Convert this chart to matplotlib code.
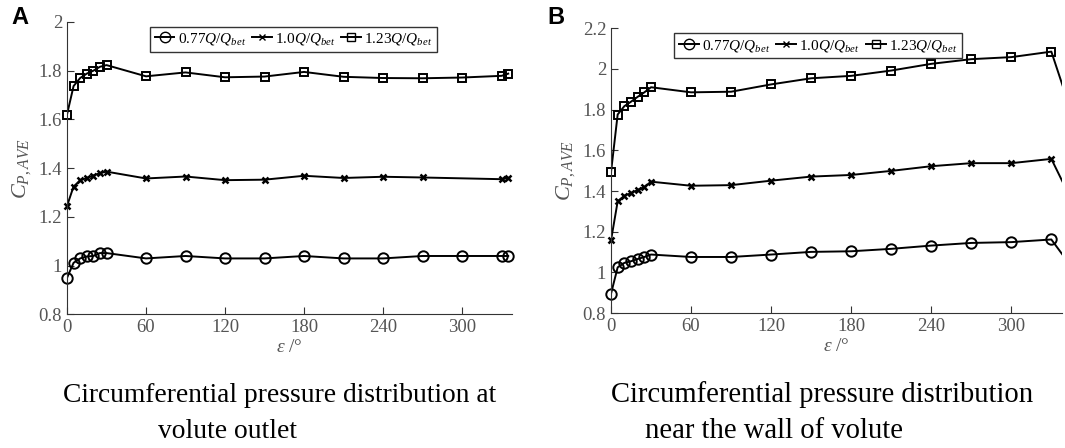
import numpy as np
import matplotlib
matplotlib.use("Agg")
from matplotlib import pyplot as plt

plt.rcParams["font.family"] = "Liberation Serif"
plt.rcParams["mathtext.fontset"] = "custom"
plt.rcParams["mathtext.rm"] = "Liberation Serif"
plt.rcParams["mathtext.it"] = "Liberation Serif:italic"

# panel A: volute outlet
a_x_low = [0, 5, 10, 15, 20, 25, 30, 60, 90, 120, 150, 180, 210, 240, 270, 300, 330, 335]
a_low = [0.95, 1.012, 1.03, 1.038, 1.04, 1.052, 1.052, 1.03, 1.04, 1.03, 1.03, 1.04, 1.03, 1.03,
         1.04, 1.04, 1.04, 1.04]
a_x_mid = [0, 5, 10, 15, 20, 25, 30, 60, 90, 120, 150, 180, 210, 240, 270, 330, 335]
a_mid = [1.245, 1.325, 1.35, 1.36, 1.37, 1.38, 1.386, 1.358, 1.366, 1.351, 1.353, 1.369, 1.36,
         1.365, 1.362, 1.355, 1.36]
a_x_high = a_x_low
a_high = [1.62, 1.737, 1.77, 1.788, 1.80, 1.816, 1.823, 1.777, 1.793, 1.773, 1.776, 1.795, 1.775,
          1.77, 1.769, 1.772, 1.779, 1.788]

# panel B: near the wall of volute (360 closes the loop back to 0)
b_x = [0, 5, 10, 15, 20, 25, 30, 60, 90, 120, 150, 180, 210, 240, 270, 300, 330, 360]
b_low = [0.895, 1.025, 1.047, 1.055, 1.066, 1.076, 1.088, 1.076, 1.076, 1.088, 1.101, 1.104,
         1.116, 1.132, 1.145, 1.149, 1.162, 0.895]
b_mid = [1.157, 1.349, 1.377, 1.39, 1.405, 1.42, 1.446, 1.426, 1.429, 1.451, 1.471, 1.479,
         1.499, 1.522, 1.537, 1.537, 1.558, 1.157]
b_high = [1.492, 1.776, 1.817, 1.839, 1.863, 1.885, 1.91, 1.885, 1.888, 1.924, 1.954, 1.966,
          1.992, 2.025, 2.048, 2.058, 2.085, 1.492]

labels = ["0.77$Q$/$Q_{bet}$", "1.0$Q$/$Q_{bet}$", "1.23$Q$/$Q_{bet}$"]
x_ticks = [0, 60, 120, 180, 240, 300]
x_max = 338
a_yticks = [0.8, 1.0, 1.2, 1.4, 1.6, 1.8, 2.0]
b_yticks = [0.8, 1.0, 1.2, 1.4, 1.6, 1.8, 2.0, 2.2]


def fmt(v):
  return ("%.1f" % v).rstrip("0").rstrip(".")


def panel(ax, series, yticks, legend_x):
  styles = [dict(marker="o", ms=7.5, mfc="none"),
            dict(marker="x", ms=5, mew=1.8),
            dict(marker="s", ms=6, mfc="none")]
  for (xs, ys), lab, st in zip(series, labels, styles):
    xs = np.asarray(xs, float)
    ys = np.asarray(ys, float)
    ax.plot(xs, ys, color="black", lw=1.4)
    # markers are not clipped at the axes edge, like the original
    keep = xs <= x_max
    ax.plot(xs[keep], ys[keep], ls="none", color="black", mec="black", mew=st.pop("mew", 1.4),
            clip_on=False, **st)
    ax.plot([], [], color="black", lw=1.4, mec="black", label=lab, **st)
  ax.set_xlim(0, x_max)
  ax.set_ylim(yticks[0], yticks[-1])
  ax.set_xticks(x_ticks)
  ax.set_yticks(yticks)
  ax.set_yticklabels([fmt(v) for v in yticks])
  for s in ["top", "right"]:
    ax.spines[s].set_visible(False)
  for s in ["left", "bottom"]:
    ax.spines[s].set_color("#333333")
  ax.tick_params(direction="in", length=5, labelsize=13.5, labelcolor="#555555", color="#333333")
  ax.set_xlabel(r"$\varepsilon$ /°", fontsize=14, color="#555555", labelpad=2)
  ax.set_ylabel("$C_{P,AVE}$", fontsize=16, color="#555555", labelpad=4)
  leg = ax.legend(loc="upper center", bbox_to_anchor=(legend_x, 1.01), ncol=3, fontsize=11,
                  handlelength=1.3, handletextpad=0.2, columnspacing=0.4, borderpad=0.3,
                  fancybox=False, framealpha=1)
  leg.get_frame().set_edgecolor("#333333")
  leg.get_frame().set_linewidth(1.0)


fig = plt.figure(figsize=(10.65, 4.48), dpi=100)
ax1 = fig.add_axes([0.0629, 0.298, 0.418, 0.653])
ax2 = fig.add_axes([0.5737, 0.301, 0.4235, 0.636])

panel(ax1, [(a_x_low, a_low), (a_x_mid, a_mid), (a_x_high, a_high)], a_yticks, 0.509)
panel(ax2, [(b_x, b_low), (b_x, b_mid), (b_x, b_high)], b_yticks, 0.459)

fig.text(0.011, 0.96, "A", fontsize=17, fontweight="bold", family="Liberation Sans", va="center")
fig.text(0.514, 0.96, "B", fontsize=17, fontweight="bold", family="Liberation Sans", va="center")

fig.text(0.059, 0.103, "Circumferential pressure distribution at", fontsize=19.8, va="baseline")
fig.text(0.148, 0.022, "volute outlet", fontsize=19.8, va="baseline")
fig.text(0.574, 0.103, "Circumferential pressure distribution", fontsize=20.6, va="baseline")
fig.text(0.606, 0.022, "near the wall of volute", fontsize=20.6, va="baseline")

fig.savefig("out.png", dpi=100)
